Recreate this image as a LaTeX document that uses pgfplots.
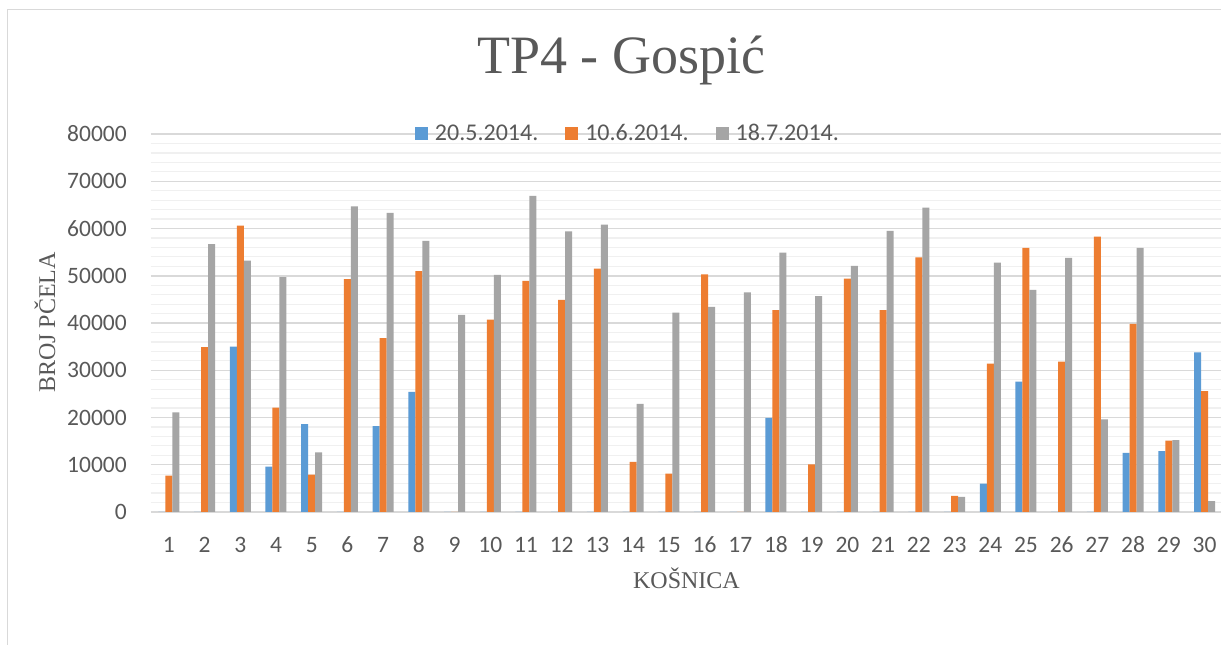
\documentclass[border=0pt]{standalone}
\usepackage{fontspec}
\setmainfont{Liberation Serif}
\newfontfamily\carlito{Carlito}
\usepackage{pgfplots}
\usepackage{pgfplotstable}
\pgfplotsset{compat=1.18}
\definecolor{cblue}{HTML}{5B9BD5}
\definecolor{corange}{HTML}{ED7D31}
\definecolor{cgray}{HTML}{A5A5A5}
\definecolor{txt}{HTML}{595959}
\definecolor{gmaj}{HTML}{D9D9D9}
\definecolor{gmin}{HTML}{F0F0F0}
\pgfplotstableread{
x a b c
1 0 7700 21100
2 0 34900 56700
3 35000 60600 53200
4 9600 22100 49700
5 18600 7900 12600
6 0 49300 64700
7 18200 36800 63300
8 25400 51000 57400
9 0 0 41700
10 0 40700 50200
11 0 48900 66900
12 0 44900 59400
13 0 51500 60800
14 0 10600 22900
15 0 8100 42200
16 0 50300 43400
17 0 0 46500
18 19900 42700 54900
19 0 10100 45700
20 0 49400 52100
21 0 42700 59500
22 0 53900 64400
23 0 3400 3200
24 6000 31400 52800
25 27600 55900 47000
26 0 31800 53800
27 0 58300 19600
28 12500 39800 55900
29 12900 15100 15200
30 33800 25600 2300
}\datatable
\begin{document}
\begin{tikzpicture}[x=1pt,y=1pt]
\path[use as bounding box] (0,0) rectangle (1221,645);
\fill[white] (0,0) rectangle (1221,645);
\draw[gmaj, line width=1.2pt] (7.5,0) -- (7.5,635.5) -- (1221,635.5);
\begin{axis}[
  at={(151pt,133pt)}, anchor=south west,
  scale only axis, width=1071.4pt, height=378pt,
  xmin=0.5, xmax=30.5, ymin=0, ymax=80000,
  ybar=0pt, bar width=7pt,
  axis line style={draw=none},
  xtick={1,...,30}, ytick={0,10000,...,80000},
  minor y tick num=4,
  major tick length=0pt, minor tick length=0pt,
  ymajorgrids, yminorgrids,
  major grid style={gmaj, line width=1.5pt},
  minor grid style={gmin, line width=1.2pt},
  scaled y ticks=false,
  /pgf/number format/assume math mode=true,
  /pgf/number format/1000 sep={},
  ticklabel style={font=\carlito\fontsize{23.5}{23.5}\selectfont, text=txt, inner sep=0pt},
  yticklabel style={anchor=east, xshift=-24pt},
  xticklabel style={anchor=center, yshift=-33pt},
  xlabel={KOŠNICA},
  xlabel style={at={(axis description cs:0.4998,-0.2037)}, anchor=base, font=\fontsize{24}{24}\selectfont, text=txt, inner sep=0pt},
  ylabel={BROJ PČELA},
  ylabel style={at={(axis description cs:-0.0896,0.501)}, anchor=base, rotate=0, font=\fontsize{24}{24}\selectfont, text=txt, inner sep=0pt},
  title={TP4 - Gospić},
  title style={at={(axis description cs:0.4387,1.1429)}, anchor=base, font=\fontsize{54}{54}\selectfont, text=txt, inner sep=0pt},
  legend columns=3,
  legend style={at={(axis description cs:0.2464,1.0026)}, anchor=west, draw=none, fill=none,
    inner sep=0pt, outer sep=0pt,
    font=\carlito\fontsize{24}{24}\selectfont, text=txt,
    nodes={inner sep=0pt},
    /tikz/every odd column/.append style={column sep=7pt},
    /tikz/every even column/.append style={column sep=27pt}},
  clip=false,
]
\addplot[fill=cblue, draw=none, legend image code/.code={\fill[cblue] (0pt,-6.5pt) rectangle (13pt,6.5pt);}] table[x=x,y=a] {\datatable};
\addplot[fill=corange, draw=none, legend image code/.code={\fill[corange] (0pt,-6.5pt) rectangle (13pt,6.5pt);}] table[x=x,y=b] {\datatable};
\addplot[fill=cgray, draw=none, legend image code/.code={\fill[cgray] (0pt,-6.5pt) rectangle (13pt,6.5pt);}] table[x=x,y=c] {\datatable};
\legend{20.5.2014.,10.6.2014.,18.7.2014.}
\end{axis}
\end{tikzpicture}
\end{document}
